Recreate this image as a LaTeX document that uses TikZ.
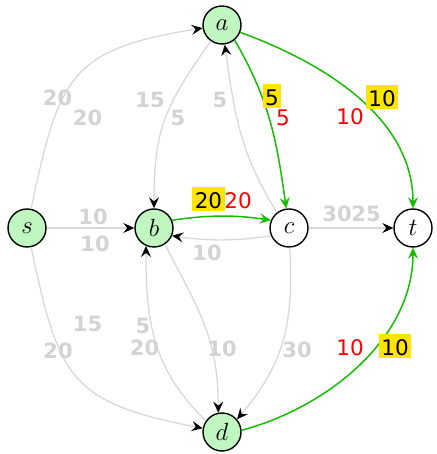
\documentclass[tikz,border=0pt]{standalone}
\usepackage{fontspec}
\newfontfamily\labfont{DejaVu Sans}
\usetikzlibrary{arrows.meta}
\definecolor{edgegray}{RGB}{216,216,216}
\definecolor{labgray}{RGB}{211,211,211}
\definecolor{flowgreen}{RGB}{20,190,0}
\definecolor{nodefill}{RGB}{192,246,192}
\definecolor{boxyellow}{RGB}{255,228,0}
\tikzset{
  vtx/.style={circle, draw=black, line width=1.4pt, minimum size=38pt, inner sep=0pt,
    font=\fontsize{24}{24}\selectfont},
  src/.style={vtx, fill=nodefill},
  plain/.style={vtx, fill=white},
  gedge/.style={draw=edgegray, line width=1.3pt,
    -{Stealth[length=11pt,width=10pt,inset=4pt,color=black]}},
  fedge/.style={draw=flowgreen, line width=1.5pt,
    -{Stealth[length=11pt,width=10pt,inset=4pt,color=flowgreen]}},
  lbase/.style={inner sep=0pt, anchor=base, yshift=-7.8pt,
    font=\labfont\fontsize{21.5}{21.5}\selectfont},
  glab/.style={lbase, text=labgray, font=\labfont\bfseries\fontsize{21}{21}\selectfont},
  rlab/.style={lbase, text=red},
  ylab/.style={lbase, text=black, fill=boxyellow, inner xsep=2.5pt, inner ysep=0pt,
    text height=22pt, text depth=2.5pt}
}
\begin{document}
\begin{tikzpicture}[x=1pt,y=1pt]
\useasboundingbox (0,0) rectangle (436,454);
% nodes
\node[src]   (s) at (27,226)  {$s$};
\node[src]   (b) at (154,226) {$b$};
\node[plain] (c) at (289,226) {$c$};
\node[plain] (t) at (413,226) {$t$};
\node[src]   (a) at (222,429) {$a$};
\node[src]   (d) at (222,22)  {$d$};
% gray edges
\draw[gedge] (s) -- (b);
\draw[gedge] (c) -- (t);
\draw[gedge] (s.78) .. controls +(78:135) and +(189:135) .. (a.189);
\draw[gedge] (s.282) .. controls +(282:135) and +(169:135) .. (d.169);
\draw[gedge] (a.235) .. controls +(235:80) and +(90:80) .. (b.90);
\draw[gedge] (c.128) .. controls +(122:70) and +(278:70) .. (a.278);
\draw[gedge] (c.203) .. controls +(189:35) and +(-9:35) .. (b.337);
\draw[gedge] (b.304) .. controls +(297:75) and +(90:75) .. (d.101);
\draw[gedge] (d.145) .. controls +(136:75) and +(270:75) .. (b.246);
\draw[gedge] (c.272) .. controls +(273:75) and +(50:75) .. (d.40);
% green edges
\draw[fedge] (a.310) .. controls +(300:70) and +(98:70) .. (c.98);
\draw[fedge] (a.338) .. controls +(-20:90) and +(90:90) .. (t.90);
\draw[fedge] (b.23) .. controls +(9:35) and +(171:35) .. (c.157);
\draw[fedge] (d.5) .. controls +(15:90) and +(270:90) .. (t.270);
% gray labels
\node[glab] (l1)  at (57.5,356) {20};
\node[glab] (l2)  at (87.5,336) {20};
\node[glab] (l3)  at (150,354) {15};
\node[glab] (l4)  at (178,336) {5};
\node[glab] (l5)  at (220,354) {5};
\node[glab] (l6)  at (93,237)  {10};
\node[glab] (l7)  at (95,210)  {10};
\node[glab] (l8)  at (207,201) {10};
\node[glab] (l9)  at (337,240) {30};
\node[glab] (l10) at (366,240) {25};
\node[glab] (l11) at (87.5,130) {15};
\node[glab] (l12) at (58,103)  {20};
\node[glab] (l13) at (143,128) {5};
\node[glab] (l14) at (144.5,106) {20};
\node[glab] (l15) at (222,105) {10};
\node[glab] (l16) at (297,104) {30};
% red labels
\node[rlab] (r1) at (283,336) {5};
\node[rlab] (r2) at (350,337) {10};
\node[rlab] (r3) at (238,253) {20};
\node[rlab] (r4) at (350,106) {10};
% yellow labels
\node[ylab] (y1) at (272,356) {5};
\node[ylab] (y2) at (382,355) {10};
\node[ylab] (y3) at (208.5,253) {20};
\node[ylab] (y4) at (395,106) {10};
\end{tikzpicture}
\end{document}
